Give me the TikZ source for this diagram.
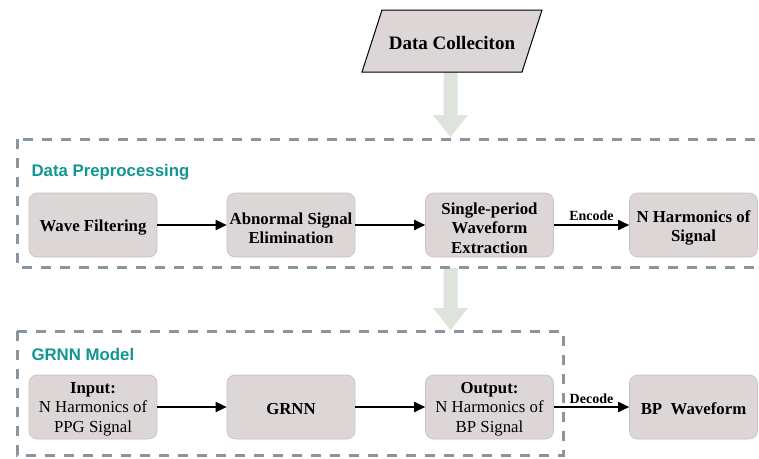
\documentclass[tikz,border=0pt]{standalone}
\usepackage{fontspec}
\setmainfont{Liberation Serif}
\newfontfamily\labelsans{Liberation Sans}
\usetikzlibrary{arrows.meta}
\definecolor{boxfill}{RGB}{221,214,214}
\definecolor{boxline}{RGB}{200,192,192}
\definecolor{dashcol}{RGB}{138,149,162}
\definecolor{teallab}{RGB}{18,150,145}
\definecolor{bigarrow}{RGB}{222,227,220}
\tikzset{
  procbox/.style={draw=boxline, line width=0.6pt, fill=boxfill, rounded corners=8pt,
    minimum width=128pt, minimum height=64pt, inner sep=1pt},
  boxtext/.style={align=center, inner sep=0pt, font=\fontsize{16.8}{19.5}\selectfont},
  flowarrow/.style={draw=black, line width=1.8pt, -{Triangle[length=11pt,width=10pt]}},
  groupbox/.style={draw=dashcol, line width=3pt, dash pattern=on 10pt off 9pt},
  grouplabel/.style={anchor=west, text=teallab, font=\labelsans\bfseries\fontsize{16.8}{20}\selectfont},
  edgelabel/.style={font=\bfseries\fontsize{14}{16}\selectfont, inner sep=1pt},
  databox/.style={draw=black, line width=1pt, fill=boxfill}
}
\begin{document}
\begin{tikzpicture}[x=1pt,y=-1pt]
\useasboundingbox (0,0) rectangle (759,458);
% big grey arrows
\fill[bigarrow] (443.5,72) -- (457.5,72) -- (457.5,115) -- (468,115) -- (450.5,137) -- (433,115) -- (443.5,115) -- cycle;
\fill[bigarrow] (443.5,268) -- (457.5,268) -- (457.5,308) -- (468,308) -- (450.5,330) -- (433,308) -- (443.5,308) -- cycle;
% group boxes
\draw[groupbox] (17,139) rectangle (790,267);
\draw[groupbox] (17,331) rectangle (563,455);
\node[grouplabel] (lp) at (28,172) {Data Preprocessing};
\node[grouplabel] (lg) at (28,354) {GRNN Model};
% data collection
\draw[databox] (382,10) -- (542,10) -- (522,72) -- (362,72) -- cycle;
\node[font=\bfseries\fontsize{19}{22}\selectfont] (dc) at (452,43) {Data Colleciton};
% row 1
\node[procbox] (wf) at (93,225) {};
\node[procbox] (ab) at (291,225) {};
\node[procbox] (sp) at (489.5,225) {};
\node[procbox] (nh) at (693.5,225) {};
\node[boxtext] (wft) at ([yshift=-3pt]wf.center) {\textbf{Wave Filtering}};
\node[boxtext] (abt) at ([yshift=-3pt]ab.center) {\textbf{Abnormal Signal}\\\textbf{Elimination}};
\node[boxtext] (spt) at ([yshift=-3pt]sp.center) {\textbf{Single-period}\\\textbf{Waveform}\\\textbf{Extraction}};
\node[boxtext] (nht) at ([yshift=-3pt]nh.center) {\textbf{N Harmonics of}\\\textbf{Signal}};
% row 2
\node[procbox] (in) at (93,407) {};
\node[procbox] (gr) at (291,407) {};
\node[procbox] (out) at (489.5,407) {};
\node[procbox] (bp) at (693.5,407) {};
\node[boxtext] (int) at ([yshift=-2pt]in.center) {\textbf{Input:}\\N Harmonics of\\PPG Signal};
\node[boxtext] (grt) at ([yshift=-2pt]gr.center) {\textbf{GRNN}};
\node[boxtext] (outt) at ([yshift=-2pt]out.center) {\textbf{Output:}\\N Harmonics of\\BP Signal};
\node[boxtext] (bpt) at ([yshift=-2pt]bp.center) {\textbf{BP\ \ Waveform}};
% arrows
\draw[flowarrow] (wf) -- (ab);
\draw[flowarrow] (ab) -- (sp);
\draw[flowarrow] (sp) -- node[edgelabel, above=2pt] {Encode} (nh);
\draw[flowarrow] (in) -- (gr);
\draw[flowarrow] (gr) -- (out);
\draw[flowarrow] (out) -- node[edgelabel, above=1pt] {Decode} (bp);
\end{tikzpicture}
\end{document}
